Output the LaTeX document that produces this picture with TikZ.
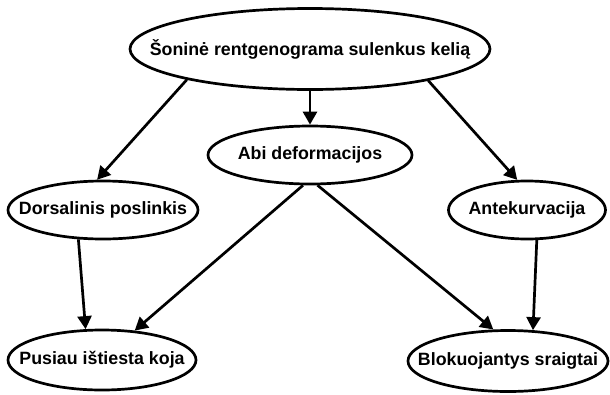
\documentclass[tikz,border=0pt]{standalone}
\usepackage{fontspec}
\setmainfont{Liberation Sans}
\usepackage{tikz}
\usetikzlibrary{shapes.geometric, arrows.meta}

\begin{document}
\begin{tikzpicture}[x=1pt, y=-1pt, line width=2.7pt,
    stage/.style={draw, ellipse, inner sep=0pt,
        font=\fontsize{17.8pt}{21pt}\selectfont\bfseries,
        execute at begin node={\hbox to 0pt\bgroup\hss},
        execute at end node={\hss\egroup}},
    link/.style={-{Triangle[length=13pt, width=14pt]}}]
    \useasboundingbox (0,0) rectangle (610,394);

    \node[stage, minimum width=360pt, minimum height=81pt] (knee) at (310,49) {Šoninė rentgenograma sulenkus kelią};
    \node[stage, minimum width=204pt, minimum height=58pt] (both) at (310,155) {Abi deformacijos};
    \node[stage, minimum width=190pt, minimum height=58pt] (dorsal) at (103,210) {Dorsalinis poslinkis};
    \node[stage, minimum width=157pt, minimum height=58pt] (antecurv) at (527,210) {Antekurvacija};
    \node[stage, minimum width=188pt, minimum height=60pt] (halfext) at (102,360) {Pusiau ištiesta koja};
    \node[stage, minimum width=200pt, minimum height=61pt] (screws) at (508,361) {Blokuojantys sraigtai};

    \draw[link] (knee.194.6) -- (dorsal.101);
    \draw[link] (knee.south) -- (both.north);
    \draw[link] (knee.345.2) -- (antecurv.108);
    \draw[link] (dorsal.230) -- (halfext.118.7);
    \draw[link] (both.257.7) -- (halfext.42);
    \draw[link] (both.284) -- (screws.115.8);
    \draw[link] (antecurv.288) -- (screws.51);
\end{tikzpicture}
\end{document}
